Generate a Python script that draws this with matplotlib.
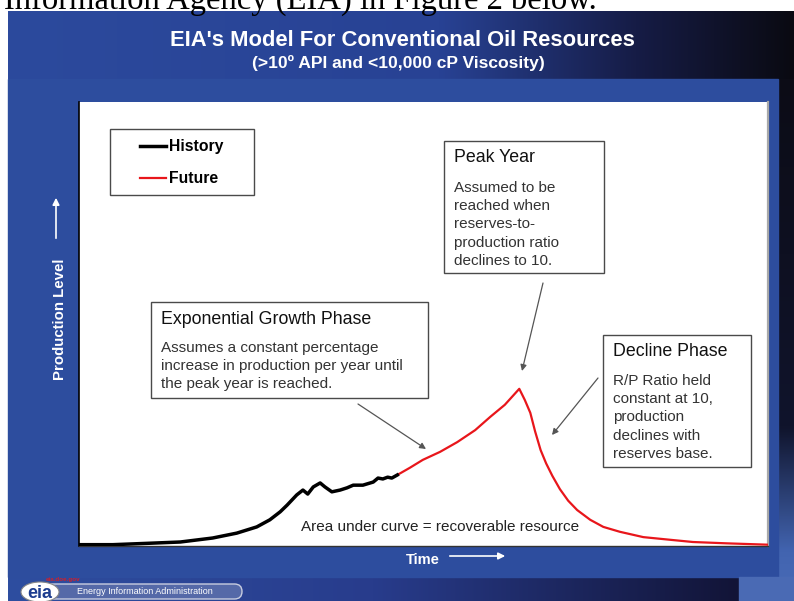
import numpy as np
import matplotlib
matplotlib.use('Agg')
import matplotlib.pyplot as plt
from matplotlib.patches import Rectangle, FancyBboxPatch, Ellipse

plt.rcParams['font.family'] = ['Liberation Sans', 'DejaVu Sans']

# Kurvendaten (Zeit 0-100, Produktionsniveau 0-100)
hist_t = [0.1, 4.9, 9.9, 14.7, 19.4, 22.9, 25.8, 27.7, 29.2, 30.2, 31.6, 32.5, 33.2,
          34.0, 35.0, 35.7, 36.7, 37.9, 38.9, 39.8, 41.2, 42.7, 43.4, 44.1, 44.8, 45.4, 46.2]
hist_p = [0.3, 0.3, 0.6, 0.9, 1.8, 2.9, 4.3, 5.9, 7.7, 9.2, 11.5, 12.6, 11.7,
          13.3, 14.2, 13.3, 12.2, 12.6, 13.1, 13.7, 13.7, 14.4, 15.3, 15.1, 15.5, 15.3, 16.0]
fut_t = [46.2, 48.0, 49.9, 52.4, 54.9, 57.5, 59.7, 61.8, 63.9, 64.7, 65.5, 66.2, 67.0,
         67.8, 68.7, 69.8, 71.0, 72.3, 74.2, 76.1, 78.5, 81.9, 85.8, 89.1, 94.0, 99.9]
fut_p = [16.0, 17.6, 19.4, 21.2, 23.4, 26.1, 29.1, 31.8, 35.4, 32.9, 30.0, 25.8, 21.6,
         18.6, 15.8, 12.8, 10.2, 8.1, 5.9, 4.3, 3.2, 2.0, 1.4, 0.9, 0.6, 0.3]

series_labels = ['History', 'Future']
series_colors = ['black', '#e8161b']

fig = plt.figure(figsize=(7.94, 6.01), dpi=100)

# Hintergrund (Folie) in Pixelkoordinaten
bg = fig.add_axes([0, 0, 1, 1])
bg.set_xlim(0, 794)
bg.set_ylim(601, 0)
bg.axis('off')


def hgrad(x0, x1, y0, y1, stops, cols, vertical=False):
    n = 256
    pos = np.linspace(0, 1, n)
    cols = np.array(cols) / 255.0
    arr = np.stack([np.interp(pos, stops, cols[:, k]) for k in range(3)], axis=-1)
    arr = arr[:, None, :] if vertical else arr[None, :, :]
    bg.imshow(arr, extent=(x0, x1, y1, y0), aspect='auto', interpolation='bilinear', zorder=0)


# Titelband
hgrad(8, 794, 11, 79, [0, 0.55, 0.8, 1], [(44, 74, 157), (40, 66, 148), (22, 28, 70), (10, 10, 18)])
# Blaues Panel
bg.add_patch(Rectangle((8, 79), 770, 498, color='#2d4d9e', zorder=1))
# Rechter Streifen
hgrad(778, 794, 79, 577, [0, 0.7, 0.95, 1], [(12, 12, 22), (16, 20, 44), (66, 100, 176), (70, 104, 180)],
      vertical=True)
# Fussband
hgrad(8, 739, 577, 601, [0, 0.5, 1], [(46, 78, 160), (40, 60, 140), (18, 20, 55)])
bg.add_patch(Rectangle((739, 577), 55, 24, color='#4a6ab4', zorder=1))

# Text oberhalb der Folie
bg.text(4, 9, 'Information Agency (EIA) in Figure 2 below.', fontsize=23.5,
        family='Liberation Serif', color='black', va='baseline', ha='left')

# Titel
bg.text(402, 41, "EIA's Model For Conventional Oil Resources", color='white', fontsize=15.8,
        fontweight='bold', ha='center', va='center',
        family=['Liberation Sans Narrow', 'Liberation Sans'])
bg.text(398, 63, '(>10º API and <10,000 cP Viscosity)', color='white', fontsize=12.6,
        fontweight='bold', ha='center', va='center',
        family=['Liberation Sans Narrow', 'Liberation Sans'])

# Achsenbeschriftungen
bg.text(60, 319, 'Production Level', color='white', fontsize=10.8, fontweight='bold',
        rotation=90, ha='center', va='center')
bg.annotate('', xy=(56, 195), xytext=(56, 241),
            arrowprops=dict(arrowstyle='-|>', color='white', lw=1.2, mutation_scale=10))
bg.text(423, 560, 'Time', color='white', fontsize=10.5, fontweight='bold', ha='center', va='center')
bg.annotate('', xy=(508, 556), xytext=(447, 556),
            arrowprops=dict(arrowstyle='-|>', color='white', lw=1.2, mutation_scale=10))

# Logo unten links
bg.add_patch(FancyBboxPatch((30, 584), 212, 15, boxstyle='round,pad=0,rounding_size=7.5',
                            facecolor='#5569a8', edgecolor='#c8cde0', lw=1, zorder=3))
bg.add_patch(Ellipse((40, 592), 38, 20, facecolor='white', edgecolor='#888', lw=0.8, zorder=4))
bg.text(40, 593, 'eia', color='#1d3d8f', fontsize=13, fontweight='bold', ha='center',
        va='center', zorder=5)
bg.text(46, 580, 'eia.doe.gov', color='#d0202a', fontsize=4.5, fontweight='bold',
        ha='left', va='center', zorder=5)
bg.text(77, 592, 'Energy Information Administration', color='white', fontsize=6.5,
        ha='left', va='center', zorder=5)

# Diagrammfläche
ax = fig.add_axes([79 / 794, 55 / 601, 689 / 794, 444 / 601])
ax.set_facecolor('white')
ax.set_xlim(0, 100)
ax.set_ylim(0, 100)
ax.set_xticks([])
ax.set_yticks([])
ax.spines['top'].set_visible(False)
ax.spines['left'].set_color('black')
ax.spines['left'].set_linewidth(1.2)
ax.spines['right'].set_color('#a8a8a8')
ax.spines['right'].set_linewidth(1.6)
ax.spines['bottom'].set_color('#333333')
ax.spines['bottom'].set_linewidth(1.0)

h_line, = ax.plot(hist_t, hist_p, color=series_colors[0], lw=2.5, solid_joinstyle='round',
                  label=series_labels[0], zorder=4)
f_line, = ax.plot(fut_t, fut_p, color=series_colors[1], lw=1.6, solid_joinstyle='round',
                  label=series_labels[1], zorder=3)

# Overlay für Kästen und Pfeile in Pixelkoordinaten
ov = fig.add_axes([0, 0, 1, 1])
ov.set_xlim(0, 794)
ov.set_ylim(601, 0)
ov.axis('off')
ov.patch.set_alpha(0)

box_kw = dict(facecolor='white', edgecolor='#4a4a4a', lw=1.0)
ov.add_patch(Rectangle((110, 129), 144, 66, **box_kw))
ov.add_patch(Rectangle((444, 141), 160, 132, **box_kw))
ov.add_patch(Rectangle((151, 302), 277, 96, **box_kw))
ov.add_patch(Rectangle((603, 335), 148, 132, **box_kw))

leg = ov.legend([h_line, f_line], series_labels, loc='upper left',
                bbox_to_anchor=(140 / 794, 1 - 139 / 601), bbox_transform=fig.transFigure,
                frameon=False, handlelength=1.65, handletextpad=0.2, labelspacing=1.1,
                borderpad=0, borderaxespad=0, prop=dict(size=11.3, weight='bold'))

head = dict(fontsize=12.8, color='#111111', ha='left', va='center')
body = dict(fontsize=11, color='#333333', ha='left', va='top', linespacing=1.38)

ov.text(454, 158, 'Peak Year', **head)
ov.text(454, 181, 'Assumed to be\nreached when\nreserves-to-\nproduction ratio\ndeclines to 10.', **body)
ov.text(161, 319, 'Exponential Growth Phase', **head)
ov.text(161, 341, 'Assumes a constant percentage\nincrease in production per year until\n'
        'the peak year is reached.', **body)
ov.text(613, 352, 'Decline Phase', **head)
ov.text(613, 374, 'R/P Ratio held\nconstant at 10,\nproduction\ndeclines with\nreserves base.', **body)
ov.text(440, 527, 'Area under curve = recoverable resource', fontsize=11, color='#222222',
        ha='center', va='center')

arr = dict(arrowstyle='-|>', color='#555555', lw=0.9, mutation_scale=9,
           shrinkA=0, shrinkB=0)
ov.annotate('', xy=(522, 371), xytext=(543, 283), arrowprops=arr)
ov.annotate('', xy=(426, 449), xytext=(358, 404), arrowprops=arr)
ov.annotate('', xy=(552, 435), xytext=(598, 378), arrowprops=arr)

fig.savefig('out.png', dpi=100)
